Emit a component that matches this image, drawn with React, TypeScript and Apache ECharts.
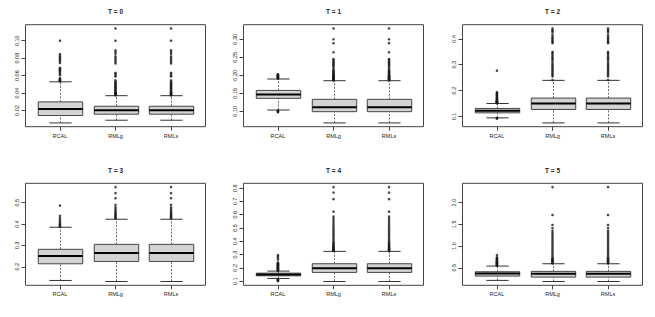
import React, { useEffect, useRef } from 'react';
import * as echarts from 'echarts';

const categories = ['RCAL', 'RMLg', 'RMLs'];
const panelTitles = ['T = 0', 'T = 1', 'T = 2', 'T = 3', 'T = 4', 'T = 5'];

// box statistics: [lower whisker, Q1, median, Q3, upper whisker]
const rcalStatsT0 = [0.0058, 0.0143, 0.0217, 0.0299, 0.0529];
const rmlgStatsT0 = [0.0089, 0.0158, 0.0203, 0.0249, 0.037];
const rmlsStatsT0 = [0.0089, 0.0158, 0.0203, 0.0249, 0.037];
const rcalStatsT1 = [0.1036, 0.1361, 0.147, 0.158, 0.1897];
const rmlgStatsT1 = [0.0678, 0.099, 0.111, 0.1333, 0.185];
const rmlsStatsT1 = [0.0678, 0.099, 0.111, 0.1333, 0.185];
const rcalStatsT2 = [0.0946, 0.114, 0.1217, 0.131, 0.15];
const rmlgStatsT2 = [0.075, 0.127, 0.15, 0.171, 0.2395];
const rmlsStatsT2 = [0.075, 0.127, 0.15, 0.171, 0.2395];
const rcalStatsT3 = [0.136, 0.214, 0.25, 0.2817, 0.385];
const rmlgStatsT3 = [0.131, 0.225, 0.264, 0.305, 0.4225];
const rmlsStatsT3 = [0.131, 0.225, 0.264, 0.305, 0.4225];
const rcalStatsT4 = [0.12, 0.14, 0.1506, 0.16, 0.1755];
const rmlgStatsT4 = [0.097, 0.1657, 0.196, 0.2307, 0.324];
const rmlsStatsT4 = [0.097, 0.1657, 0.196, 0.2307, 0.324];
const rcalStatsT5 = [0.209, 0.3085, 0.37, 0.408, 0.539];
const rmlgStatsT5 = [0.183, 0.285, 0.362, 0.417, 0.592];
const rmlsStatsT5 = [0.183, 0.285, 0.362, 0.417, 0.592];

// outliers
const rcalOutT0 = [0.0535, 0.054, 0.0545, 0.055, 0.0555, 0.056, 0.057, 0.0605, 0.062, 0.0635, 0.065, 0.066, 0.067, 0.068, 0.069, 0.0745, 0.0765, 0.078, 0.0795, 0.081, 0.0825, 0.0845, 0.1];
const rmlgOutT0 = [0.0375, 0.038, 0.0385, 0.039, 0.0395, 0.04, 0.0405, 0.041, 0.042, 0.043, 0.044, 0.045, 0.046, 0.047, 0.048, 0.049, 0.05, 0.051, 0.052, 0.053, 0.0545, 0.059, 0.06, 0.062, 0.063, 0.074, 0.076, 0.078, 0.08, 0.082, 0.085, 0.087, 0.089, 0.1, 0.114];
const rmlsOutT0 = [0.0375, 0.038, 0.0385, 0.039, 0.0395, 0.04, 0.0405, 0.041, 0.042, 0.043, 0.044, 0.045, 0.046, 0.047, 0.048, 0.049, 0.05, 0.051, 0.052, 0.053, 0.0545, 0.059, 0.06, 0.062, 0.063, 0.074, 0.076, 0.078, 0.08, 0.082, 0.085, 0.087, 0.089, 0.1, 0.114];
const rcalOutT1 = [0.0975, 0.099, 0.1005, 0.102, 0.191, 0.192, 0.193, 0.194, 0.195, 0.196, 0.197, 0.198, 0.199, 0.2, 0.2015, 0.203];
const rmlgOutT1 = [0.186, 0.187, 0.188, 0.189, 0.19, 0.191, 0.192, 0.193, 0.194, 0.195, 0.196, 0.197, 0.198, 0.199, 0.2, 0.202, 0.204, 0.206, 0.208, 0.21, 0.212, 0.215, 0.219, 0.224, 0.227, 0.23, 0.233, 0.236, 0.239, 0.2425, 0.245, 0.264, 0.289, 0.3, 0.33];
const rmlsOutT1 = [0.186, 0.187, 0.188, 0.189, 0.19, 0.191, 0.192, 0.193, 0.194, 0.195, 0.196, 0.197, 0.198, 0.199, 0.2, 0.202, 0.204, 0.206, 0.208, 0.21, 0.212, 0.215, 0.219, 0.224, 0.227, 0.23, 0.233, 0.236, 0.239, 0.2425, 0.245, 0.264, 0.289, 0.3, 0.33];
const rcalOutT2 = [0.0925, 0.093, 0.094, 0.151, 0.152, 0.153, 0.154, 0.155, 0.156, 0.157, 0.158, 0.159, 0.16, 0.162, 0.164, 0.166, 0.168, 0.17, 0.172, 0.175, 0.178, 0.181, 0.184, 0.187, 0.19, 0.194, 0.2767];
const rmlgOutT2 = [0.2407, 0.255, 0.26, 0.265, 0.27, 0.276, 0.281, 0.286, 0.292, 0.297, 0.303, 0.31, 0.318, 0.322, 0.327, 0.333, 0.34, 0.345, 0.35, 0.383, 0.388, 0.393, 0.398, 0.403, 0.408, 0.415, 0.425, 0.43, 0.434, 0.44];
const rmlsOutT2 = [0.2407, 0.255, 0.26, 0.265, 0.27, 0.276, 0.281, 0.286, 0.292, 0.297, 0.303, 0.31, 0.318, 0.322, 0.327, 0.333, 0.34, 0.345, 0.35, 0.383, 0.388, 0.393, 0.398, 0.403, 0.408, 0.415, 0.425, 0.43, 0.434, 0.44];
const rcalOutT3 = [0.388, 0.392, 0.396, 0.4, 0.405, 0.412, 0.42, 0.428, 0.438, 0.4864];
const rmlgOutT3 = [0.427, 0.431, 0.435, 0.44, 0.445, 0.45, 0.456, 0.462, 0.47, 0.478, 0.4897, 0.521, 0.5446, 0.573];
const rmlsOutT3 = [0.427, 0.431, 0.435, 0.44, 0.445, 0.45, 0.456, 0.462, 0.47, 0.478, 0.4897, 0.521, 0.5446, 0.573];
const rcalOutT4 = [0.1, 0.104, 0.108, 0.112, 0.115, 0.178, 0.181, 0.184, 0.187, 0.19, 0.193, 0.196, 0.199, 0.202, 0.205, 0.208, 0.211, 0.214, 0.217, 0.22, 0.223, 0.226, 0.229, 0.232, 0.236, 0.24, 0.262, 0.275, 0.287, 0.296];
const rmlgOutT4 = [0.327, 0.331, 0.335, 0.34, 0.345, 0.35, 0.356, 0.362, 0.368, 0.375, 0.382, 0.39, 0.398, 0.41, 0.422, 0.435, 0.448, 0.46, 0.472, 0.485, 0.498, 0.51, 0.525, 0.54, 0.555, 0.57, 0.586, 0.623, 0.717, 0.767, 0.808];
const rmlsOutT4 = [0.327, 0.331, 0.335, 0.34, 0.345, 0.35, 0.356, 0.362, 0.368, 0.375, 0.382, 0.39, 0.398, 0.41, 0.422, 0.435, 0.448, 0.46, 0.472, 0.485, 0.498, 0.51, 0.525, 0.54, 0.555, 0.57, 0.586, 0.623, 0.717, 0.767, 0.808];
const rcalOutT5 = [0.545, 0.555, 0.565, 0.575, 0.585, 0.595, 0.605, 0.615, 0.625, 0.635, 0.645, 0.655, 0.665, 0.68, 0.695, 0.71, 0.725, 0.74, 0.793];
const rmlgOutT5 = [0.6, 0.615, 0.63, 0.645, 0.66, 0.675, 0.69, 0.705, 0.72, 0.754, 0.793, 0.83, 0.87, 0.91, 0.95, 0.99, 1.03, 1.07, 1.11, 1.15, 1.19, 1.23, 1.27, 1.31, 1.35, 1.41, 1.485, 1.716, 2.358];
const rmlsOutT5 = [0.6, 0.615, 0.63, 0.645, 0.66, 0.675, 0.69, 0.705, 0.72, 0.754, 0.793, 0.83, 0.87, 0.91, 0.95, 0.99, 1.03, 1.07, 1.11, 1.15, 1.19, 1.23, 1.27, 1.31, 1.35, 1.41, 1.485, 1.716, 2.358];

// y tick labels
const ticksT0 = [0.02, 0.04, 0.06, 0.08, 0.1];
const ticksT1 = [0.1, 0.15, 0.2, 0.25, 0.3];
const ticksT2 = [0.1, 0.2, 0.3, 0.4];
const ticksT3 = [0.2, 0.3, 0.4, 0.5];
const ticksT4 = [0.1, 0.2, 0.3, 0.4, 0.5, 0.6, 0.7, 0.8];
const ticksT5 = [0.5, 1.0, 1.5, 2.0];
const tickDecimals = [2, 2, 1, 1, 1, 1];

const panelStats = [
  [rcalStatsT0, rmlgStatsT0, rmlsStatsT0],
  [rcalStatsT1, rmlgStatsT1, rmlsStatsT1],
  [rcalStatsT2, rmlgStatsT2, rmlsStatsT2],
  [rcalStatsT3, rmlgStatsT3, rmlsStatsT3],
  [rcalStatsT4, rmlgStatsT4, rmlsStatsT4],
  [rcalStatsT5, rmlgStatsT5, rmlsStatsT5],
];
const panelOutliers = [
  [rcalOutT0, rmlgOutT0, rmlsOutT0],
  [rcalOutT1, rmlgOutT1, rmlsOutT1],
  [rcalOutT2, rmlgOutT2, rmlsOutT2],
  [rcalOutT3, rmlgOutT3, rmlsOutT3],
  [rcalOutT4, rmlgOutT4, rmlsOutT4],
  [rcalOutT5, rmlgOutT5, rmlsOutT5],
];
const panelTicks = [ticksT0, ticksT1, ticksT2, ticksT3, ticksT4, ticksT5];

const FONT = '"Liberation Sans", Arial, Helvetica, sans-serif';
const LINE = '#444';

export default function App() {
  const ref = useRef<HTMLDivElement>(null);
  useEffect(() => {
    if (!ref.current) return;
    const chart = echarts.init(ref.current, undefined, { renderer: 'svg' });

    const frameLefts = [25.5, 243.5, 462.5];
    const frameTops = [24.7, 183.3];
    const frameW = 180;
    const frameH = 102;
    const innerOffset = (frameW * 0.12) / 3.24;
    const innerW = (frameW * 3) / 3.24;

    const grid: any[] = [];
    const xAxis: any[] = [];
    const yAxis: any[] = [];
    const series: any[] = [];
    const title: any[] = [];

    for (let p = 0; p < 6; p++) {
      const col = p % 3;
      const row = Math.floor(p / 3);
      const left = frameLefts[col];
      const top = frameTops[row];
      const all: number[] = [];
      panelStats[p].forEach((s) => all.push(...s));
      panelOutliers[p].forEach((o) => all.push(...o));
      const dMin = Math.min(...all);
      const dMax = Math.max(...all);
      const ext = (dMax - dMin) * 0.04;
      const yMin = dMin - ext;
      const yMax = dMax + ext;
      const dec = tickDecimals[p];

      const fi = grid.length;
      grid.push({
        left, top, width: frameW, height: frameH,
        show: true, borderColor: LINE, borderWidth: 1, backgroundColor: 'transparent',
      });
      const ii = grid.length;
      grid.push({ left: left + innerOffset, top, width: innerW, height: frameH });

      xAxis.push({ gridIndex: fi, type: 'value', min: 0, max: 1, show: false });
      xAxis.push({
        gridIndex: ii, type: 'category', data: categories,
        axisLine: { show: false },
        axisTick: { show: true, alignWithLabel: true, length: 4, lineStyle: { color: LINE, width: 1 } },
        axisLabel: { fontSize: 5.5, color: '#222', margin: 6, fontFamily: FONT },
        splitLine: { show: false },
      });
      yAxis.push({
        gridIndex: fi, type: 'value', min: yMin, max: yMax,
        axisLine: { show: false },
        splitLine: { show: false },
        axisTick: { show: true, length: 4, customValues: panelTicks[p], lineStyle: { color: LINE, width: 1 } },
        axisLabel: {
          show: true, customValues: panelTicks[p], rotate: 90, fontSize: 5.5, color: '#222', margin: 6,
          fontFamily: FONT, formatter: (v: number) => v.toFixed(dec),
        },
      });
      yAxis.push({ gridIndex: ii, type: 'value', min: yMin, max: yMax, show: false });

      const boxData = panelStats[p].map((s, k) => [k, ...s]);
      series.push({
        type: 'custom',
        xAxisIndex: ii,
        yAxisIndex: ii,
        data: boxData,
        encode: { x: 0, y: [1, 2, 3, 4, 5] },
        renderItem: (params: any, api: any) => {
          const x = api.value(0);
          const pMin = api.coord([x, api.value(1)]);
          const pQ1 = api.coord([x, api.value(2)]);
          const pMed = api.coord([x, api.value(3)]);
          const pQ3 = api.coord([x, api.value(4)]);
          const pMax = api.coord([x, api.value(5)]);
          const band = api.size([1, 0])[0];
          const cx = Math.round(pMin[0]) + 0.5;
          const half = band * 0.4;
          const cap = band * 0.2;
          const dashStyle = { stroke: LINE, lineWidth: 0.8, lineDash: [2, 1.5] };
          const capStyle = { stroke: '#333', lineWidth: 1 };
          return {
            type: 'group',
            children: [
              { type: 'line', shape: { x1: cx, y1: pMin[1], x2: cx, y2: pQ1[1] }, style: dashStyle },
              { type: 'line', shape: { x1: cx, y1: pQ3[1], x2: cx, y2: pMax[1] }, style: dashStyle },
              { type: 'line', shape: { x1: cx - cap, y1: pMin[1], x2: cx + cap, y2: pMin[1] }, style: capStyle },
              { type: 'line', shape: { x1: cx - cap, y1: pMax[1], x2: cx + cap, y2: pMax[1] }, style: capStyle },
              {
                type: 'rect',
                shape: { x: cx - half, y: pQ3[1], width: half * 2, height: pQ1[1] - pQ3[1] },
                style: { fill: '#d3d3d3', stroke: LINE, lineWidth: 1 },
              },
              { type: 'line', shape: { x1: cx - half, y1: pMed[1], x2: cx + half, y2: pMed[1] }, style: { stroke: '#000', lineWidth: 2 } },
            ],
          };
        },
      });

      const outData: number[][] = [];
      panelOutliers[p].forEach((o, k) => o.forEach((v) => outData.push([k, v])));
      series.push({
        type: 'scatter',
        xAxisIndex: ii,
        yAxisIndex: ii,
        data: outData,
        symbol: 'circle',
        symbolSize: 2.6,
        itemStyle: { color: '#1a1a1a' },
        z: 5,
      });

      title.push({
        text: panelTitles[p],
        left: left + frameW / 2,
        top: row === 0 ? 8 : 166.5,
        textAlign: 'center',
        padding: 0,
        textStyle: { fontSize: 6.5, fontWeight: 'bold', color: '#222', fontFamily: FONT },
      });
    }

    chart.setOption({
      animation: false,
      backgroundColor: '#fff',
      title,
      grid,
      xAxis,
      yAxis,
      series,
    });
    return () => chart.dispose();
  }, []);
  return <div ref={ref} style={{ position: 'absolute', left: 0, top: 0, width: 655, height: 317 }} />;
}
